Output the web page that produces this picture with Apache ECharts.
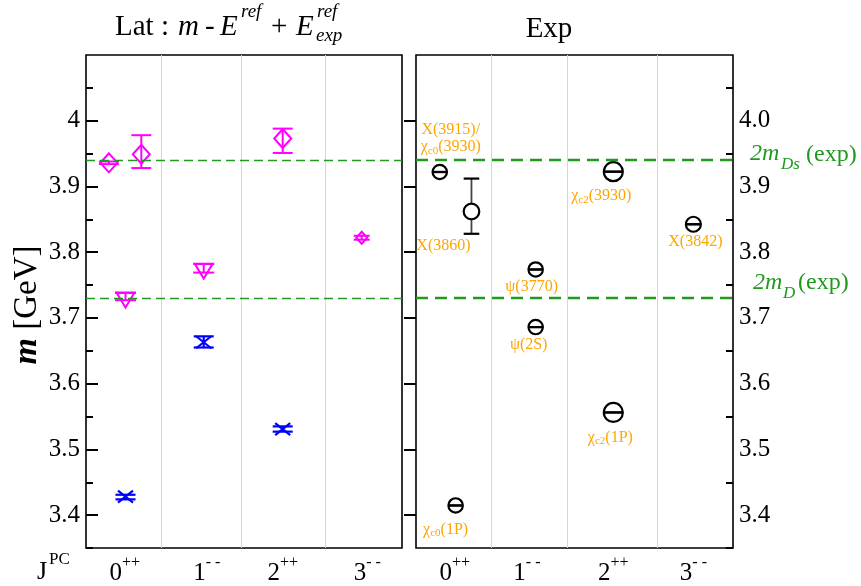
<!DOCTYPE html>
<html><head><meta charset="utf-8">
<script src="https://cdn.jsdelivr.net/npm/echarts@6/dist/echarts.min.js"></script>
<style>html,body{margin:0;padding:0;background:#fff}#c{width:861px;height:586px}</style>
</head><body><div id="c"></div>
<script>
// ---------- data ----------
const categories = ['0++', '1--', '2++', '3--'];
const catNum = ['0', '1', '2', '3'];
const catSup = ['++', '- -', '++', '- -'];
// category label positions on the value x-axis (0..4)
const latCatPos = [0.49, 1.53, 2.49, 3.56];
const expCatPos = [0.49, 1.40, 2.49, 3.50];
// vertical separator positions
const latSepPos = [0.95, 1.96, 3.03];
const expSepPos = [0.95, 1.91, 3.04];
// y ticks
const yMajor = [3.4, 3.5, 3.6, 3.7, 3.8, 3.9, 4.0];
const yMinor = [3.35, 3.45, 3.55, 3.65, 3.75, 3.85, 3.95, 4.05];
// thresholds
const thrValues = [3.937, 3.734];

// lattice: magenta diamonds
const latDiamondX = [0.29, 0.70, 2.49];
const latDiamondY = [3.936, 3.949, 3.973];
const latDiamondLo = [3.934, 3.928, 3.951];
const latDiamondHi = [3.938, 3.978, 3.988];
// lattice: magenta down triangles
const latTriX = [0.50, 1.49];
const latTriY = [3.731, 3.775];
const latTriLo = [3.727, 3.769];
const latTriHi = [3.738, 3.782];
// lattice: small magenta (3--)
const latSmallX = [3.49];
const latSmallY = [3.822];
const latSmallLo = [3.819];
const latSmallHi = [3.825];
// lattice: blue crosses
const latBlueX = [0.50, 1.49, 2.49];
const latBlueY = [3.428, 3.663, 3.531];
const latBlueLo = [3.424, 3.655, 3.527];
const latBlueHi = [3.431, 3.672, 3.535];

// experiment
const expLabels = ['X(3915)/\nχ_c0(3930)', 'X(3860)', 'χ_c0(1P)', 'ψ(3770)', 'ψ(2S)', 'χ_c2(3930)', 'χ_c2(1P)', 'X(3842)'];
const expX = [0.30, 0.70, 0.50, 1.51, 1.51, 2.49, 2.49, 3.50];
const expY = [3.922, 3.862, 3.4147, 3.7737, 3.6861, 3.9225, 3.5562, 3.8425];
const expLo = [3.922, 3.828, 3.4147, 3.7737, 3.6861, 3.9225, 3.5562, 3.8425];
const expHi = [3.922, 3.912, 3.4147, 3.7737, 3.6861, 3.9225, 3.5562, 3.8425];

// ---------- layout / style ----------
const SERIF = "'Liberation Serif','Times New Roman',serif";
const expRadius = [7.2, 7.8, 7.2, 7.2, 7.2, 9.5, 9.5, 7.5];
const expLabelOff = [[11, -33], [-28, 34], [-10, 24], [-4, 17], [-7, 18], [-12, 24], [-3, 25], [2, 18]];

function zip4(a, b, c, d) { return a.map((v, i) => [v, b[i], c[i], d[i]]); }

function symbolEls(shape, c, w, h, st) {
  const [cx, cy] = c;
  if (shape === 'diamond') {
    return [{ type: 'polygon', shape: { points: [[cx, cy - h / 2], [cx + w / 2, cy], [cx, cy + h / 2], [cx - w / 2, cy]] }, style: st }];
  }
  if (shape === 'tri') {
    return [{ type: 'polygon', shape: { points: [[cx - w / 2, cy - h / 3], [cx + w / 2, cy - h / 3], [cx, cy + 2 * h / 3]] }, style: st }];
  }
  if (shape === 'x') {
    return [
      { type: 'line', shape: { x1: cx - w / 2, y1: cy - h / 2, x2: cx + w / 2, y2: cy + h / 2 }, style: st },
      { type: 'line', shape: { x1: cx - w / 2, y1: cy + h / 2, x2: cx + w / 2, y2: cy - h / 2 }, style: st }
    ];
  }
  return [];
}

function errRender(shape, color, w, h, capW, lw) {
  return function (params, api) {
    const x = api.value(0), y = api.value(1), lo = api.value(2), hi = api.value(3);
    const c = api.coord([x, y]), a = api.coord([x, lo]), b = api.coord([x, hi]);
    const st = { stroke: color, lineWidth: lw, fill: 'none' };
    const ch = [
      { type: 'line', shape: { x1: a[0], y1: a[1], x2: b[0], y2: b[1] }, style: st },
      { type: 'line', shape: { x1: a[0] - capW / 2, y1: a[1], x2: a[0] + capW / 2, y2: a[1] }, style: st },
      { type: 'line', shape: { x1: b[0] - capW / 2, y1: b[1], x2: b[0] + capW / 2, y2: b[1] }, style: st }
    ].concat(symbolEls(shape, c, w, h, st));
    return { type: 'group', children: ch };
  };
}

function richify(s) {
  return s.split('\n').map(line => {
    const m = line.match(/^(.*?)_(c\d)(.*)$/);
    if (!m) return '{g|' + line + '}';
    return (m[1] ? '{g|' + m[1] + '}' : '') + '{s|' + m[2] + '}' + (m[3] ? '{g|' + m[3] + '}' : '');
  }).join('\n');
}

function expRender(params, api) {
  const i = params.dataIndex;
  const x = api.value(0), y = api.value(1), lo = api.value(2), hi = api.value(3);
  const c = api.coord([x, y]), a = api.coord([x, lo]), b = api.coord([x, hi]);
  const r = expRadius[i];
  const capW = 2 * r;
  const st = { stroke: '#000', lineWidth: 2.2, fill: 'none' };
  const bar = { stroke: '#444', lineWidth: 1.8, fill: 'none' };
  const ch = [
    { type: 'line', shape: { x1: a[0], y1: a[1], x2: b[0], y2: b[1] }, style: bar },
    { type: 'line', shape: { x1: a[0] - capW / 2, y1: a[1], x2: a[0] + capW / 2, y2: a[1] }, style: st },
    { type: 'line', shape: { x1: b[0] - capW / 2, y1: b[1], x2: b[0] + capW / 2, y2: b[1] }, style: st },
    { type: 'circle', shape: { cx: c[0], cy: c[1], r: r }, style: { stroke: '#000', lineWidth: 2.2, fill: lo === hi ? 'none' : '#fff' } },
    {
      type: 'text', x: c[0] + expLabelOff[i][0], y: c[1] + expLabelOff[i][1],
      style: {
        text: richify(expLabels[i]), align: 'center', verticalAlign: 'middle', fill: '#FFA500',
        fontSize: 16, fontFamily: SERIF,
        rich: {
          g: { fontSize: 16, fontFamily: SERIF, fill: '#FFA500' },
          s: { fontSize: 11, fontFamily: SERIF, fill: '#FFA500', padding: [8, 0, 0, 0] }
        }
      }
    }
  ];
  return { type: 'group', children: ch };
}

function xAxisFor(gi, pos) {
  return {
    gridIndex: gi, type: 'value', min: 0, max: 4,
    axisLine: { show: false }, axisTick: { show: false }, splitLine: { show: false },
    axisLabel: {
      customValues: pos, margin: 7, color: '#000', fontSize: 25, fontFamily: SERIF,
      formatter: function (v) {
        let j = 0, best = 1e9;
        pos.forEach((p, k) => { if (Math.abs(p - v) < best) { best = Math.abs(p - v); j = k; } });
        return '{n|' + catNum[j] + '}{sup|' + catSup[j] + '}';
      },
      rich: {
        n: { fontSize: 25, fontFamily: SERIF, color: '#000' },
        sup: { fontSize: 16, fontFamily: SERIF, color: '#000', padding: [0, 0, 20, 0] }
      }
    }
  };
}

function yAxesFor(gi, pos, fmt) {
  return [
    {
      gridIndex: gi, type: 'value', min: 3.35, max: 4.1, position: pos,
      axisLine: { show: false }, splitLine: { show: false },
      axisTick: { show: true, inside: true, length: 12, customValues: yMajor, lineStyle: { color: '#000', width: 2 } },
      axisLabel: { customValues: yMajor, formatter: fmt, color: '#000', fontSize: 25, fontFamily: SERIF, margin: 6 }
    },
    {
      gridIndex: gi, type: 'value', min: 3.35, max: 4.1, position: pos,
      axisLine: { show: false }, splitLine: { show: false },
      axisTick: { show: true, inside: true, length: 7, customValues: yMinor, lineStyle: { color: '#000', width: 2 } },
      axisLabel: { show: false }
    }
  ];
}

function guideSeries(xi, yi, seps, thrStyle) {
  return [
    {
      type: 'line', xAxisIndex: xi, yAxisIndex: yi, data: [], z: 1, silent: true,
      markLine: {
        silent: true, symbol: ['none', 'none'], label: { show: false }, animation: false,
        lineStyle: { color: '#d6d6d6', width: 1, type: 'solid' },
        data: seps.map(v => ({ xAxis: v }))
      }
    },
    {
      type: 'line', xAxisIndex: xi, yAxisIndex: yi, data: [], z: 1, silent: true,
      markLine: {
        silent: true, symbol: ['none', 'none'], label: { show: false }, animation: false,
        lineStyle: thrStyle,
        data: thrValues.map(v => ({ yAxis: v }))
      }
    }
  ];
}

const GREEN = '#1f9a1f';
function gt(x, y, text, size, extra) {
  return { type: 'text', x: x, y: y, silent: true, style: Object.assign({ text: text, fontSize: size, fontFamily: SERIF, fill: '#000', align: 'left', verticalAlign: 'middle' }, extra || {}) };
}

const graphic = [
  gt(115, 27, 'Lat :', 29),
  gt(178, 27, 'm', 29, { fontStyle: 'italic' }),
  gt(205, 27, '-', 29),
  gt(220, 27, 'E', 29, { fontStyle: 'italic' }),
  gt(241, 12, 'ref', 19, { fontStyle: 'italic' }),
  gt(271, 27, '+', 29),
  gt(296, 27, 'E', 29, { fontStyle: 'italic' }),
  gt(317, 12, 'ref', 19, { fontStyle: 'italic' }),
  gt(316, 36, 'exp', 19, { fontStyle: 'italic' }),
  gt(549, 29, 'Exp', 29, { align: 'center' }),
  {
    type: 'text', x: 27, y: 305, rotation: Math.PI / 2, silent: true,
    style: {
      text: '{b|m} [GeV]', align: 'center', verticalAlign: 'middle', fontSize: 33, fontFamily: SERIF, fill: '#000',
      rich: { b: { fontSize: 34, fontFamily: SERIF, fontWeight: 'bold', fontStyle: 'italic', fill: '#000' } }
    }
  },
  gt(37, 572, 'J', 26),
  gt(49, 560, 'PC', 17),
  gt(750, 154, '2m', 24, { fontStyle: 'italic', fill: GREEN }),
  gt(781, 165, 'Ds', 17, { fontStyle: 'italic', fill: GREEN }),
  gt(806, 155, '(exp)', 24, { fill: GREEN }),
  gt(753, 283, '2m', 24, { fontStyle: 'italic', fill: GREEN }),
  gt(783, 294, 'D', 17, { fontStyle: 'italic', fill: GREEN }),
  gt(798, 283, '(exp)', 24, { fill: GREEN })
];

const chart = echarts.init(document.getElementById('c'), null, { renderer: 'canvas' });
chart.setOption({
  animation: false,
  backgroundColor: '#fff',
  grid: [
    { left: 86, top: 55, width: 316, height: 493, show: true, borderColor: '#000', borderWidth: 1.6, backgroundColor: 'transparent' },
    { left: 416, top: 55, width: 317, height: 493, show: true, borderColor: '#000', borderWidth: 1.6, backgroundColor: 'transparent' }
  ],
  xAxis: [xAxisFor(0, latCatPos), xAxisFor(1, expCatPos)],
  yAxis: yAxesFor(0, 'left', v => Math.abs(v - 4) < 1e-9 ? '4' : v.toFixed(1))
    .concat(yAxesFor(1, 'right', v => v.toFixed(1))),
  graphic: graphic,
  series: [
    ...guideSeries(0, 0, latSepPos, { color: GREEN, width: 1.3, type: [9, 5] }),
    ...guideSeries(1, 2, expSepPos, { color: GREEN, width: 2.4, type: [12, 7] }),
    { type: 'custom', xAxisIndex: 0, yAxisIndex: 0, z: 3, encode: { x: 0, y: 1 },
      renderItem: errRender('diamond', '#FF00FF', 17, 19, 20, 2), data: zip4(latDiamondX, latDiamondY, latDiamondLo, latDiamondHi) },
    { type: 'custom', xAxisIndex: 0, yAxisIndex: 0, z: 3, encode: { x: 0, y: 1 },
      renderItem: errRender('tri', '#FF00FF', 18, 15, 21, 2), data: zip4(latTriX, latTriY, latTriLo, latTriHi) },
    { type: 'custom', xAxisIndex: 0, yAxisIndex: 0, z: 3, encode: { x: 0, y: 1 },
      renderItem: errRender('diamond', '#FF00FF', 11, 12, 16, 2), data: zip4(latSmallX, latSmallY, latSmallLo, latSmallHi) },
    { type: 'custom', xAxisIndex: 0, yAxisIndex: 0, z: 3, encode: { x: 0, y: 1 },
      renderItem: errRender('x', '#0000FF', 15, 12, 20, 2.2), data: zip4(latBlueX, latBlueY, latBlueLo, latBlueHi) },
    { type: 'custom', xAxisIndex: 1, yAxisIndex: 2, z: 3, encode: { x: 0, y: 1 },
      renderItem: expRender, data: zip4(expX, expY, expLo, expHi) }
  ]
});
</script>
</body></html>
